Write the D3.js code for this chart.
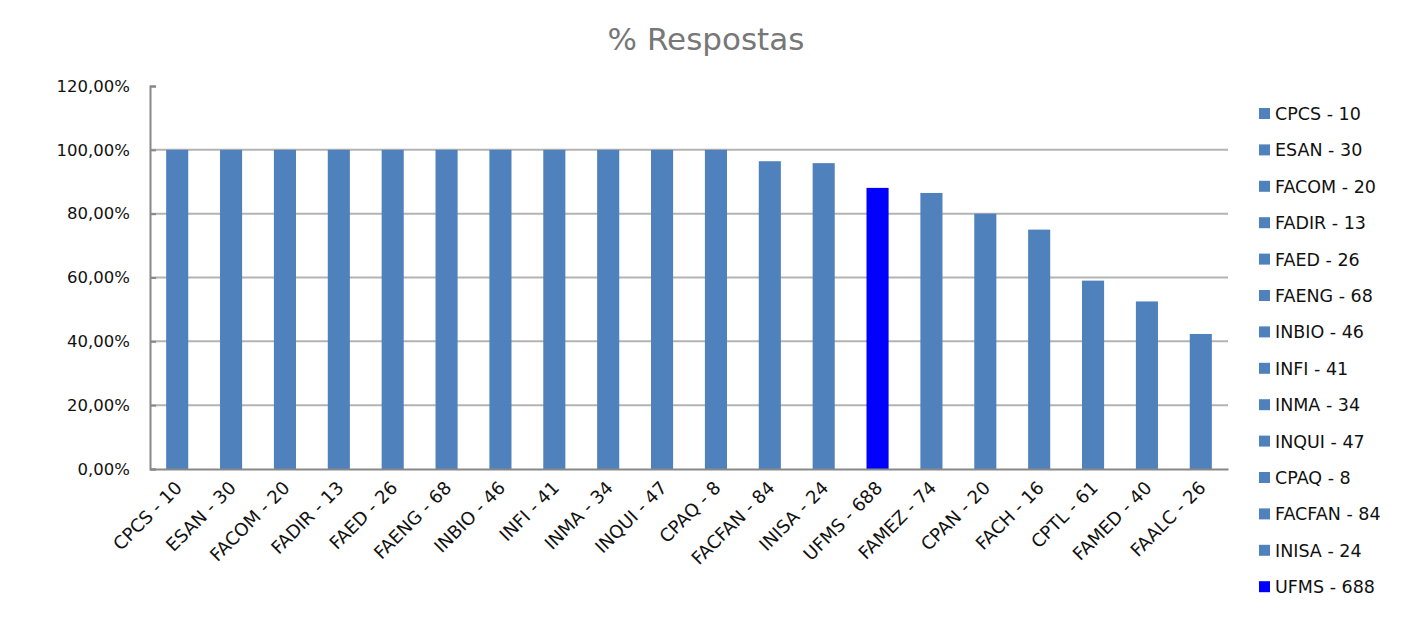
<!DOCTYPE html>
<html>
<head>
<meta charset="utf-8">
<script src="https://cdn.jsdelivr.net/npm/d3@7"></script>
<style>
  body { margin: 0; background: #fff; }
  text { font-family: "DejaVu Sans", sans-serif; }
</style>
</head>
<body>
<div id="graphic"></div>
<script>
  var categories = ["CPCS - 10", "ESAN - 30", "FACOM - 20", "FADIR - 13", "FAED - 26", "FAENG - 68",
    "INBIO - 46", "INFI - 41", "INMA - 34", "INQUI - 47", "CPAQ - 8", "FACFAN - 84", "INISA - 24",
    "UFMS - 688", "FAMEZ - 74", "CPAN - 20", "FACH - 16", "CPTL - 61", "FAMED - 40", "FAALC - 26"];
  var values = [1, 1, 1, 1, 1, 1, 1, 1, 1, 1, 1, 0.9643, 0.9583, 0.8808, 0.8649, 0.80, 0.75, 0.5902, 0.525, 0.4231];
  var yTicks = [0, 0.2, 0.4, 0.6, 0.8, 1.0, 1.2];
  var highlight = "UFMS - 688";
  var legendCount = 14; // the legend in the source is cut after 14 entries

  var width = 1410;
  var height = 637;
  var margin = { top: 86, right: 182, bottom: 168, left: 150 };
  var barColor = "#4f81bd";
  var highlightColor = "#0000ff";

  var svg = d3.select("#graphic")
    .append("svg")
    .attr("width", width)
    .attr("height", height);

  var xScale = d3.scaleBand()
    .domain(categories)
    .range([margin.left, width - margin.right])
    .paddingInner(0.59)
    .paddingOuter(0.3);

  var yScale = d3.scaleLinear()
    .domain([0, 1.2])
    .range([height - margin.bottom, margin.top]);

  var fmt = function(d) { return (d * 100).toFixed(2).replace(".", ",") + "%"; };

  // title
  svg.append("text")
    .attr("x", 706)
    .attr("y", 50)
    .attr("text-anchor", "middle")
    .style("font-size", "31px")
    .style("fill", "#777")
    .text("% Respostas");

  // gridlines
  svg.append("g")
    .selectAll("line")
    .data(yTicks.filter(function(t) { return t > 0 && t < 1.2; }))
    .enter().append("line")
    .attr("x1", margin.left)
    .attr("x2", width - margin.right)
    .attr("y1", function(d) { return yScale(d); })
    .attr("y2", function(d) { return yScale(d); })
    .style("stroke", "#b3b3b3")
    .style("stroke-width", 2);

  // bars
  svg.append("g")
    .selectAll("rect")
    .data(categories)
    .enter().append("rect")
    .attr("x", function(d) { return xScale(d); })
    .attr("width", xScale.bandwidth())
    .attr("y", function(d, i) { return yScale(values[i]); })
    .attr("height", function(d, i) { return yScale(0) - yScale(values[i]); })
    .style("fill", function(d) { return d === highlight ? highlightColor : barColor; });

  // y axis
  var yAxis = d3.axisLeft(yScale)
    .tickValues(yTicks)
    .tickFormat(fmt)
    .tickSize(-6)
    .tickPadding(18);

  var gy = svg.append("g")
    .attr("transform", "translate(" + margin.left + ",0)")
    .call(yAxis);
  gy.select(".domain").style("stroke", "#888").style("stroke-width", 2);
  gy.selectAll(".tick line").style("stroke", "#888").style("stroke-width", 2);
  gy.selectAll(".tick text")
    .style("font-size", "16.5px")
    .style("fill", "#111")
    .attr("x", -20);

  // x axis
  var xAxis = d3.axisBottom(xScale).tickSize(0).tickPadding(0);
  var gx = svg.append("g")
    .attr("transform", "translate(0," + yScale(0) + ")")
    .call(xAxis);
  gx.select(".domain").style("stroke", "#888").style("stroke-width", 2);
  gx.selectAll(".tick text")
    .style("font-size", "18px")
    .style("fill", "#111")
    .attr("text-anchor", "end")
    .attr("dy", 0)
    .attr("transform", "translate(6,20) rotate(-45)");

  // legend
  var legend = svg.append("g")
    .attr("transform", "translate(1259,113)");

  var item = legend.selectAll("g")
    .data(categories.slice(0, legendCount))
    .enter().append("g")
    .attr("transform", function(d, i) { return "translate(0," + (i * 36.4) + ")"; });

  item.append("rect")
    .attr("x", 0)
    .attr("y", -5)
    .attr("width", 11)
    .attr("height", 11)
    .style("fill", function(d) { return d === highlight ? highlightColor : barColor; });

  item.append("text")
    .attr("x", 16)
    .attr("y", 7)
    .style("font-size", "17.5px")
    .style("fill", "#111")
    .text(function(d) { return d; });
</script>
</body>
</html>
